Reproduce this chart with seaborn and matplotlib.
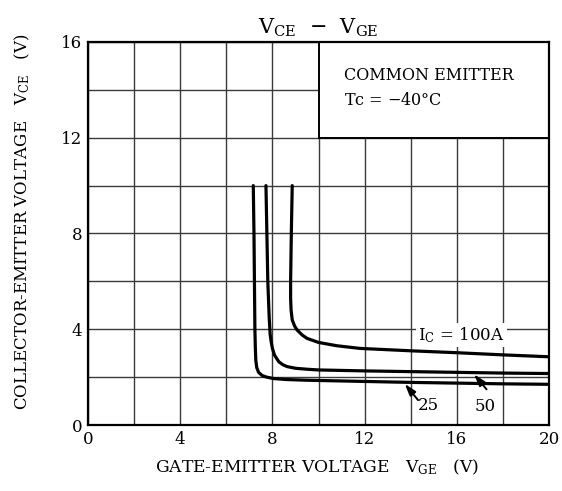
import seaborn as sns
import matplotlib.pyplot as plt
import pandas as pd
from matplotlib.patches import Rectangle

# curve data (VGE [V], VCE [V])
vge_25 = [7.17, 7.2, 7.22, 7.24, 7.26, 7.28, 7.32, 7.4, 7.55, 7.75, 8.06, 8.6, 9.5, 10.0, 12.0, 14.0, 16.0, 18.0, 20.0]
vce_25 = [10.0, 8.0, 6.0, 4.0, 3.2, 2.7, 2.4, 2.2, 2.07, 2.0, 1.94, 1.9, 1.87, 1.86, 1.82, 1.78, 1.75, 1.72, 1.70]

vge_50 = [7.72, 7.76, 7.8, 7.86, 7.9, 7.95, 8.0, 8.09, 8.28, 8.45, 8.64, 9.0, 9.5, 10.0, 12.0, 14.0, 16.0, 18.0, 20.0]
vce_50 = [10.0, 8.0, 6.0, 4.5, 3.8, 3.45, 3.2, 2.92, 2.64, 2.52, 2.44, 2.37, 2.33, 2.30, 2.26, 2.23, 2.2, 2.17, 2.15]

vge_100 = [8.86, 8.82, 8.79, 8.79, 8.81, 8.86, 8.96, 9.07, 9.29, 9.5, 10.0, 10.8, 11.8, 14.0, 16.0, 18.0, 20.0]
vce_100 = [10.0, 8.0, 6.0, 5.3, 4.8, 4.39, 4.14, 3.97, 3.76, 3.62, 3.45, 3.31, 3.2, 3.1, 3.02, 2.93, 2.85]

x_ticks = [0, 4, 8, 12, 16, 20]
y_ticks = [0, 4, 8, 12, 16]

df = pd.concat([
    pd.DataFrame({"VGE": vge_25, "VCE": vce_25, "Ic": "25"}),
    pd.DataFrame({"VGE": vge_50, "VCE": vce_50, "Ic": "50"}),
    pd.DataFrame({"VGE": vge_100, "VCE": vce_100, "Ic": "100"}),
])

sns.set_style("white")
plt.rcParams["font.family"] = ["DejaVu Serif"]
plt.rcParams["mathtext.fontset"] = "dejavuserif"
plt.rcParams["text.color"] = "black"
plt.rcParams["xtick.color"] = "black"
plt.rcParams["ytick.color"] = "black"

fig = plt.figure(figsize=(5.62, 4.91), dpi=100)
ax = fig.add_axes([0.1566, 0.1344, 0.8203, 0.7801])

sns.lineplot(data=df, x="VGE", y="VCE", units="Ic", estimator=None, sort=False,
             color="black", linewidth=2.3, ax=ax, zorder=3)

ax.set_xlim(0, 20)
ax.set_ylim(0, 16)
ax.set_xticks(range(0, 21, 2))
ax.set_yticks(range(0, 17, 2))
ax.set_xticklabels([str(v) if v in x_ticks else "" for v in range(0, 21, 2)], fontsize=12)
ax.set_yticklabels([str(v) if v in y_ticks else "" for v in range(0, 17, 2)], fontsize=12)
ax.tick_params(length=0, pad=4, labelcolor="black")
ax.set_xlabel("")
ax.set_ylabel("")
ax.set_axisbelow(True)
ax.grid(True, color="#3a3a3a", linewidth=1.0)
for s in ax.spines.values():
    s.set_color("black")
    s.set_linewidth(1.6)

# box for the condition text, hides the grid beneath it
ax.add_patch(Rectangle((10, 12), 10, 4, facecolor="white", edgecolor="black",
                       linewidth=1.4, zorder=1.5))
ax.text(11.1, 14.6, "COMMON EMITTER", fontsize=11.5, va="center", zorder=4)
ax.text(11.1, 13.55, r"Tc = $-$40°C", fontsize=11.5, va="center", zorder=4)

ax.text(16.2, 3.75, r"$\mathregular{I_C}$ = 100A", fontsize=12, ha="center", va="center",
        bbox=dict(facecolor="white", edgecolor="none", pad=1.5), zorder=4)

arrow = dict(arrowstyle="-|>,head_width=0.22,head_length=0.7", color="black", lw=1.4,
             shrinkA=0, shrinkB=0, mutation_scale=10)
ax.annotate("", xy=(13.74, 1.72), xytext=(14.32, 1.04), arrowprops=arrow, zorder=4)
ax.text(14.78, 0.83, "25", fontsize=12, ha="center", va="center", zorder=4)
ax.annotate("", xy=(16.75, 2.12), xytext=(17.29, 1.49), arrowprops=arrow, zorder=4)
ax.text(17.22, 0.76, "50", fontsize=12, ha="center", va="center", zorder=4)

fig.text(317 / 562, 1 - 467 / 491, r"GATE-EMITTER VOLTAGE   $\mathregular{V_{GE}}$   (V)",
         fontsize=12.3, ha="center", va="center")
fig.text(22 / 562, 1 - 222 / 491, r"COLLECTOR-EMITTER VOLTAGE   $\mathregular{V_{CE}}$   (V)",
         fontsize=12, ha="center", va="center", rotation=90)
ax.set_title(r"$\mathregular{V_{CE}}$  $-$  $\mathregular{V_{GE}}$", fontsize=15, pad=6)

fig.savefig("out.png", dpi=100)
